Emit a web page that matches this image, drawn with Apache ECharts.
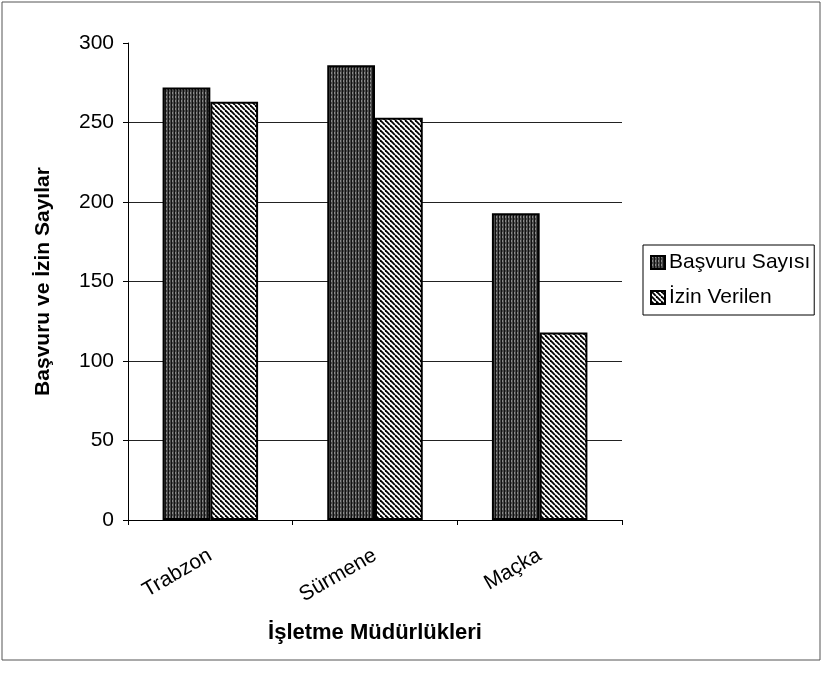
<!DOCTYPE html>
<html><head><meta charset="utf-8">
<script src="https://cdn.jsdelivr.net/npm/echarts@6/dist/echarts.min.js"></script>
<style>html,body{margin:0;padding:0;background:#fff}#c{width:825px;height:680px}</style>
</head><body><div id="c"></div>
<script>
const categories = ['Trabzon', 'Sürmene', 'Maçka'];
const basvuru = [272, 286, 193];
const izin = [263, 253, 118];
const seriesNames = ['Başvuru Sayısı', 'İzin Verilen'];
const yTicks = [0, 50, 100, 150, 200, 250, 300];

function vertPattern() {
  const c = document.createElement('canvas'); c.width = 3; c.height = 4;
  const g = c.getContext('2d');
  g.fillStyle = '#4a4a4a'; g.fillRect(0,0,3,4);
  g.fillStyle = '#111'; g.fillRect(0,0,1,4);
  g.fillStyle = '#8a8a8a'; g.fillRect(1,0,1,2);
  return c;
}
function diagPattern() {
  const s = 5;
  const c = document.createElement('canvas'); c.width = s; c.height = s;
  const g = c.getContext('2d');
  g.fillStyle = '#fff'; g.fillRect(0,0,s,s);
  g.strokeStyle = '#000'; g.lineWidth = 1.8;
  for (let k = -1; k <= 1; k++) {
    g.beginPath(); g.moveTo(k*s, 0); g.lineTo(k*s + s, s); g.stroke();
  }
  return c;
}
const p1 = {image: vertPattern(), repeat: 'repeat'};
const p2 = {image: diagPattern(), repeat: 'repeat'};

const chart = echarts.init(document.getElementById('c'));
const font = 'Liberation Sans, Arial, sans-serif';
chart.setOption({
  backgroundColor: '#fff',
  animation: false,
  textStyle: {fontFamily: font},
  graphic: [{type: 'rect', shape: {x: 2, y: 2, width: 818, height: 658}, style: {fill: 'none', stroke: '#555', lineWidth: 1}, silent: true}],
  grid: {left: 128, right: 203, top: 43, bottom: 160},
  legend: {
    orient: 'vertical', left: 643, top: 245,
    itemWidth: 14, itemHeight: 13, itemGap: 14,
    padding: [7, 4, 7, 7],
    borderColor: '#000', borderWidth: 1,
    icon: 'rect',
    textStyle: {fontSize: 21, color: '#000', fontFamily: font, padding: [0,0,0,-1]},
    data: seriesNames
  },
  xAxis: {
    type: 'category', data: categories,
    name: 'İşletme Müdürlükleri', nameLocation: 'middle', nameGap: 102,
    nameTextStyle: {fontSize: 22, fontWeight: 'bold', color: '#000', fontFamily: font},
    axisLine: {lineStyle: {color: '#000', width: 1}},
    axisTick: {show: true, length: 5, lineStyle: {color: '#000'}},
    axisLabel: {rotate: 30, fontSize: 21, color: '#000', margin: 34, fontFamily: font}
  },
  yAxis: {
    type: 'value', min: 0, max: 300, interval: 50,
    name: 'Başvuru ve İzin Sayılar', nameLocation: 'middle', nameGap: 74,
    nameTextStyle: {fontSize: 21, fontWeight: 'bold', color: '#000', fontFamily: font},
    axisLine: {show: true, lineStyle: {color: '#000'}},
    axisTick: {show: true, length: 5, lineStyle: {color: '#000'}},
    axisLabel: {fontSize: 21, color: '#000', margin: 14, fontFamily: font},
    splitLine: {show: true, lineStyle: {color: ['#000','#222','#222','#222','#222','#222','rgba(0,0,0,0)'], width: 1}}
  },
  series: [
    {name: seriesNames[0], type: 'bar', data: basvuru, barGap: '0%', barCategoryGap: '42%',
     itemStyle: {color: p1, borderColor: '#000', borderWidth: 2}},
    {name: seriesNames[1], type: 'bar', data: izin,
     itemStyle: {color: p2, borderColor: '#000', borderWidth: 2}}
  ]
});
</script></body></html>
